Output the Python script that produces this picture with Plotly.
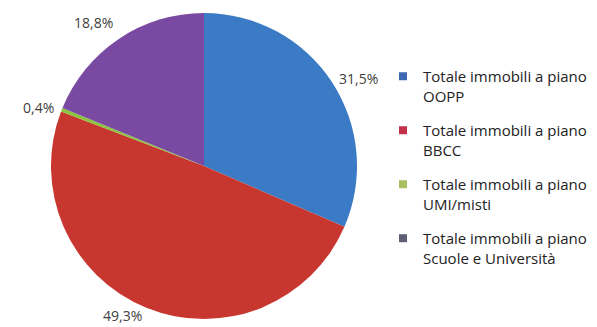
import math
import plotly.graph_objects as go

labels = [
    "Totale immobili a piano OOPP",
    "Totale immobili a piano BBCC",
    "Totale immobili a piano UMI/misti",
    "Totale immobili a piano Scuole e Università",
]
legend_labels = [
    "Totale immobili a piano<br>OOPP",
    "Totale immobili a piano<br>BBCC",
    "Totale immobili a piano<br>UMI/misti",
    "Totale immobili a piano<br>Scuole e Università",
]
values = [31.5, 49.3, 0.4, 18.8]
pct_labels = ["31,5%", "49,3%", "0,4%", "18,8%"]
slice_colors = ["#3b7bc6", "#c8372f", "#8cc43f", "#7a4aa3"]
legend_colors = ["#3d67b0", "#c2304c", "#a9bf62", "#5e5e74"]

W, H = 597, 327
cx, cy, R = 204, 166, 153  # pie centre / radius in pixels
label_h = 19  # approx. annotation text height in pixels

fig = go.Figure()
fig.add_trace(go.Pie(
    labels=labels,
    values=values,
    sort=False,
    direction="clockwise",
    rotation=0,
    marker=dict(colors=slice_colors, line=dict(width=0)),
    textinfo="none",
    hoverinfo="label+percent",
    showlegend=False,
    domain=dict(x=[(cx - R) / W, (cx + R) / W], y=[1 - (cy + R) / H, 1 - (cy - R) / H]),
))

# legend entries
for lab, col in zip(legend_labels, legend_colors):
    fig.add_trace(go.Scatter(
        x=[None], y=[None], mode="markers", name=lab, legendgroup=lab,
        marker=dict(symbol="square", size=8, color=col),
        showlegend=True,
    ))

# outside percentage labels placed next to the slice edge at each mid-angle
total = sum(values)
cum = 0.0
annotations = []
for v, t in zip(values, pct_labels):
    mid = math.radians((cum + v / 2) / total * 360)
    cum += v
    ux, uy = math.sin(mid), math.cos(mid)
    gap = 6
    px = cx + ux * (R + gap)
    py = cy - uy * (R + gap)
    xa = "left" if ux > 0.3 else ("right" if ux < -0.3 else "center")
    ya = "bottom" if uy > 0.6 else ("top" if uy < -0.6 else "middle")
    ypaper = 1 - py / H
    if ya == "top" and py + label_h > H:  # keep the label inside the canvas
        ya, ypaper = "bottom", 0
    annotations.append(dict(
        x=px / W, y=ypaper, xref="paper", yref="paper", text=t,
        showarrow=False, xanchor=xa, yanchor=ya,
        font=dict(family="Open Sans", size=14, color="#404040"),
    ))

fig.update_layout(
    width=W, height=H,
    margin=dict(l=0, r=0, t=0, b=0),
    paper_bgcolor="white", plot_bgcolor="white",
    xaxis=dict(visible=False), yaxis=dict(visible=False),
    annotations=annotations,
    legend=dict(
        x=383 / W, y=1 - 60 / H, xanchor="left", yanchor="top",
        font=dict(family="Open Sans", size=15, color="#222222"),
        tracegroupgap=12, traceorder="grouped", valign="top",
        bgcolor="rgba(0,0,0,0)",
    ),
)

fig.write_html("out.html", config={"displayModeBar": False},
               post_script="document.body.style.margin='0';")
